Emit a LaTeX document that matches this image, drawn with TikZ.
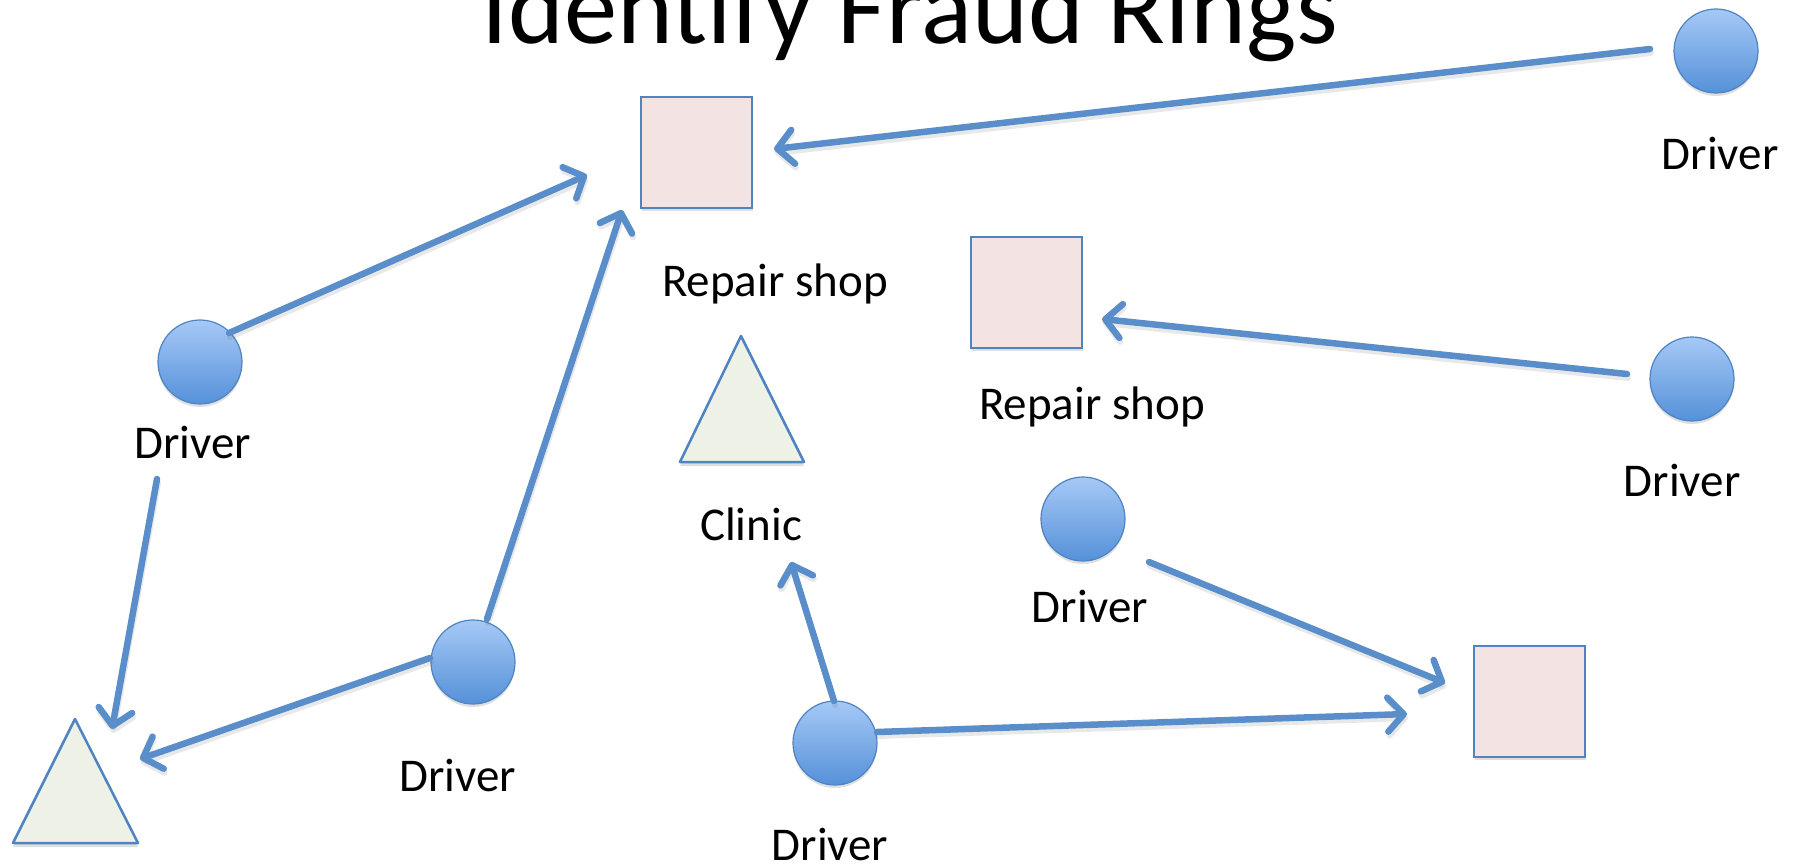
\documentclass[tikz,border=0pt]{standalone}
\usepackage{fontspec}
\setmainfont{Carlito}
\usetikzlibrary{arrows.meta,calc,shadows}
\definecolor{arrowblue}{HTML}{5A8ECB}
\definecolor{edgeblue}{HTML}{4F83C2}
\definecolor{circtop}{HTML}{A6C9F6}
\definecolor{circbot}{HTML}{5591D9}
\definecolor{shopfill}{HTML}{F3E3E2}
\definecolor{clinicfill}{HTML}{EEF2E6}
\tikzset{
  driver/.style={circle, minimum size=84pt, inner sep=0pt, draw=edgeblue, line width=1.2pt,
    top color=circtop, bottom color=circbot,
    drop shadow={shadow xshift=0pt, shadow yshift=-3pt, opacity=0.25}},
  shop/.style={rectangle, minimum size=111pt, inner sep=0pt, draw=edgeblue, line width=2pt,
    fill=shopfill, drop shadow={shadow xshift=1pt, shadow yshift=-3pt, opacity=0.25}},
  clinic/.style={draw=edgeblue, line width=2.5pt, fill=clinicfill, line join=round,
    drop shadow={shadow xshift=0pt, shadow yshift=-4pt, opacity=0.25}},
  lbl/.style={anchor=base, inner sep=0pt, font=\fontsize{47}{56}\selectfont},
  arrshadow/.style={draw=black!60, line width=6pt, line cap=round, draw opacity=0.15,
    -{Straight Barb[round, length=16pt, width=34pt]}},
  arr/.style={draw=arrowblue, line width=6.5pt, line cap=round,
    -{Straight Barb[round, length=16pt, width=34pt]}},
}
\begin{document}
\begin{tikzpicture}[x=1pt, y=-1pt]
\useasboundingbox (0,0) rectangle (1797,864);
\clip (0,0) rectangle (1797,864);
% title
\node[anchor=base, inner sep=0pt, font=\fontsize{106.5}{120}\selectfont] (title) at (910,44) {Identify Fraud Rings};
% repair shops
\node[shop] (sA) at (696.5,152.5) {};
\node[shop] (sB) at (1026.5,292.5) {};
\node[shop] (sC) at (1529.5,701.5) {};
% clinics
\coordinate (tC) at (742,399);
\coordinate (tL) at (75.5,781);
\draw[clinic] ($(tC)+(-1,-63)$) -- ($(tC)+(62,63)$) -- ($(tC)+(-62,63)$) -- cycle;
\draw[clinic] ($(tL)+(-0.5,-62)$) -- ($(tL)+(62.5,62)$) -- ($(tL)+(-62.5,62)$) -- cycle;
% drivers
\node[driver] (d1) at (1716,51) {};
\node[driver] (d2) at (200,362) {};
\node[driver] (d3) at (473,662) {};
\node[driver] (d4) at (835,743) {};
\node[driver] (d5) at (1083,519) {};
\node[driver] (d6) at (1692,379) {};
% labels
\node[lbl] (l1) at (1720,170) {Driver};
\node[lbl] (l2) at (193,458) {Driver};
\node[lbl] (l3) at (458,791) {Driver};
\node[lbl] (l4) at (830,860) {Driver};
\node[lbl] (l5) at (1090,622) {Driver};
\node[lbl] (l6) at (1682,496) {Driver};
\node[lbl] (lA) at (775,296) {Repair shop};
\node[lbl] (lB) at (1092,419) {Repair shop};
\node[lbl] (lC) at (751,540) {Clinic};
% connectors
\foreach \a/\ao/\b/\bo in {d1/{-66,-2}/sA/{77.5,-3.5}, d2/{29,-29}/sA/{-109.5,22.5},
    d3/{14,-43}/sA/{-74.5,57.5}, d2/{-43,117}/tL/{36.5,-52}, d3/{-43,-4}/tL/{64.5,-22},
    d6/{-65,-5}/sB/{75.5,26.5}, d4/{-1,-42}/tC/{49,163}, d4/{42,-11}/sC/{-122.5,12.5},
    d5/{66,43}/sC/{-84.5,-18.5}}{
  \draw[arrshadow] ($(\a)+(\ao)+(1,4)$) -- ($(\b)+(\bo)+(1,4)$);
  \draw[arr] ($(\a)+(\ao)$) -- ($(\b)+(\bo)$);
}
\end{tikzpicture}
\end{document}
